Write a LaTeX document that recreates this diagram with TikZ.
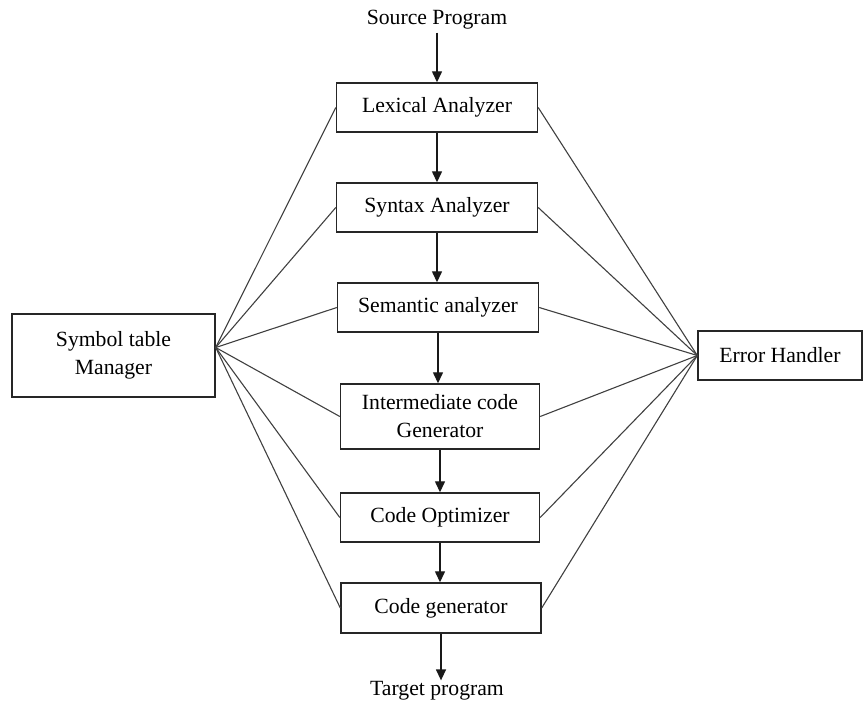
\documentclass[tikz,border=0pt]{standalone}
\usepackage{fontspec}
\setmainfont{Liberation Serif}
\usetikzlibrary{arrows.meta}
\begin{document}
\begin{tikzpicture}[x=1pt,y=-1pt,
  txt/.style={font=\fontsize{21.7}{28}\selectfont},
  phase/.style={txt, draw=black!85, line width=1.4pt, minimum width=201pt,
    minimum height=49pt, inner sep=2pt, align=center},
  endlabel/.style={txt, inner sep=3pt},
  flow/.style={-{Triangle[length=11pt,width=10pt]}, line width=1.3pt, draw=black!90},
  link/.style={line width=1.1pt, draw=black!75}]
\useasboundingbox (0,0) rectangle (867,702);

% compiler phases
\node[endlabel] (src) at (437,20) {Source Program};
\node[phase] (lex) at (437,107.5) {Lexical Analyzer};
\node[phase] (syn) at (437,207.5) {Syntax Analyzer};
\node[phase] (sem) at (438,307.5) {Semantic analyzer};
\node[phase, minimum width=199pt, minimum height=65pt] (icg) at (440,416.5) {Intermediate code\\Generator};
\node[phase, minimum width=199pt] (opt) at (440,517.5) {Code Optimizer};
\node[phase, minimum width=200pt, minimum height=50pt] (cgen) at (441,608) {Code generator};
\node[endlabel, inner sep=1pt] (tgt) at (437,691) {Target program};

% side components
\node[phase, minimum width=203pt, minimum height=83pt, text depth=6pt] (sym) at (113.5,355.5) {Symbol table\\Manager};
\node[phase, minimum width=164pt] (err) at (780,355.5) {Error Handler};

\coordinate (symhub) at ([yshift=8pt]sym.east);
\coordinate (errhub) at (err.west);

% main flow
\draw[flow] (src.south) -- (src.south |- lex.north);
\draw[flow] (lex.south) -- (lex.south |- syn.north);
\draw[flow] (syn.south) -- (syn.south |- sem.north);
\draw[flow] (sem.south) -- (sem.south |- icg.north);
\draw[flow] (icg.south) -- (icg.south |- opt.north);
\draw[flow] (opt.south) -- (opt.south |- cgen.north);
\draw[flow] (cgen.south) -- (cgen.south |- tgt.north);

% links to the symbol table and the error handler
\foreach \p in {lex,syn,sem,icg,opt,cgen}{
  \draw[link] (symhub) -- (\p.west);
  \draw[link] (errhub) -- (\p.east);
}
\end{tikzpicture}
\end{document}
